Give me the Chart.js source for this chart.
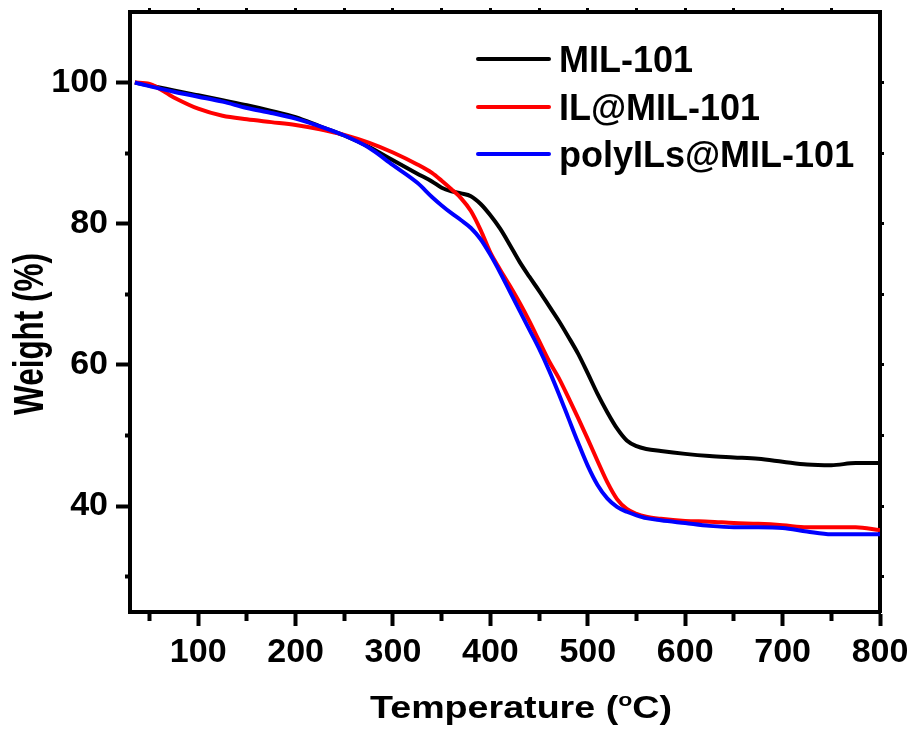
<!DOCTYPE html>
<html>
<head>
<meta charset="utf-8">
<script src="https://cdn.jsdelivr.net/npm/chart.js@4.4.0/dist/chart.umd.min.js"></script>
<style>
html,body{margin:0;padding:0;background:#fff;}
#wrap{position:relative;width:916px;height:733px;}
</style>
</head>
<body>
<div id="wrap"><canvas id="c" width="916" height="733"></canvas></div>
<script>
// ---- data ----
const temperature = [35,50,75,100,125,150,175,200,225,250,275,300,325,340,350,360,370,380,390,400,410,420,430,440,450,460,470,480,490,500,510,520,530,540,550,560,575,600,625,650,675,700,725,750,775,800];
const mil101 = [100.0,99.6,98.9,98.2,97.5,96.8,96.0,95.1,93.8,92.5,90.9,89.0,87.1,86.0,85.1,84.6,84.3,83.9,82.8,81.2,79.3,77.0,74.6,72.5,70.5,68.4,66.3,64.0,61.6,58.8,55.9,53.3,51.0,49.3,48.5,48.1,47.8,47.4,47.1,46.9,46.7,46.3,45.9,45.8,46.1,46.1];
const ilMil101 = [100.0,99.8,97.9,96.3,95.3,94.8,94.4,94.0,93.4,92.6,91.5,90.1,88.4,87.2,86.1,84.9,83.6,81.8,79.1,75.9,73.5,71.2,68.8,66.2,63.4,60.6,58.2,55.4,52.5,49.5,46.4,43.4,41.0,39.6,38.9,38.5,38.2,37.9,37.8,37.6,37.5,37.3,37.0,37.0,37.0,36.6];
const polyIlsMil101 = [100.0,99.5,98.7,98.0,97.3,96.4,95.7,94.9,93.8,92.5,90.8,88.3,85.8,83.8,82.6,81.5,80.5,79.4,77.8,75.6,73.1,70.4,67.7,65.0,62.3,59.3,56.0,52.5,49.0,45.7,43.0,41.1,39.9,39.2,38.7,38.3,38.0,37.6,37.2,37.0,37.0,36.9,36.4,36.0,36.0,36.0];
const seriesNames = ['MIL-101','IL@MIL-101','polyILs@MIL-101'];
const seriesColors = ['#000000','#ff0000','#0000ff'];
const xTickValues = [100,200,300,400,500,600,700,800];
const xMinorValues = [50,150,250,350,450,550,650,750];
const xTopValues = [50,100,150,200,250,300,350,400,450,500,550,600,650,700,750];
const yTickValues = [40,60,80,100];
const yMinorValues = [30,50,70,90];
const yRightValues = [30,40,50,60,70,80,90,100];
const xTitleParts = ['Temperature (','o','C)'];
const yTitle = 'Weight (%)';

const FONT = "'Liberation Sans', Arial, sans-serif";

function pts(ys){ return temperature.map((t,i)=>({x:t,y:ys[i]})); }
function setTicks(vals){ return function(scale){ scale.ticks = vals.map(v=>({value:v})); }; }
function zeroPad(s){ s.paddingTop = 0; s.paddingBottom = 0; s.paddingLeft = 0; s.paddingRight = 0; }

const decor = {
  id:'decor',
  afterDraw(chart){
    const ctx = chart.ctx;
    ctx.save();
    ctx.fillStyle = '#000';
    // legend
    const rowsLine = [59,107,154];
    ctx.font = 'bold 36px ' + FONT;
    ctx.textAlign = 'left';
    ctx.textBaseline = 'alphabetic';
    chart.data.datasets.forEach((ds,i)=>{
      ctx.strokeStyle = ds.borderColor;
      ctx.lineWidth = 4;
      ctx.lineCap = 'round';
      ctx.beginPath();
      ctx.moveTo(478, rowsLine[i]);
      ctx.lineTo(549, rowsLine[i]);
      ctx.stroke();
      ctx.fillText(ds.label, 559, rowsLine[i] + 12.5);
    });
    // x title with superscript
    const f1 = 'bold 31px ' + FONT, f2 = 'bold 19px ' + FONT;
    ctx.font = f1; const w0 = ctx.measureText(xTitleParts[0]).width;
    const w2 = ctx.measureText(xTitleParts[2]).width;
    ctx.font = f2; const w1 = ctx.measureText(xTitleParts[1]).width;
    const total = w0 + w1 + w2;
    const sx = 302 / total;
    ctx.save();
    ctx.translate(370, 718);
    ctx.scale(sx, 1);
    ctx.font = f1; ctx.fillText(xTitleParts[0], 0, 0);
    ctx.font = f2; ctx.fillText(xTitleParts[1], w0, -12.5);
    ctx.font = f1; ctx.fillText(xTitleParts[2], w0 + w1, 0);
    ctx.restore();
    // y title
    ctx.save();
    ctx.font = 'bold 42px ' + FONT;
    const wy = ctx.measureText(yTitle).width;
    ctx.translate(43, 415);
    ctx.rotate(-Math.PI/2);
    ctx.scale(162 / wy, 1);
    ctx.fillText(yTitle, 0, 0);
    ctx.restore();
    ctx.restore();
  }
};

const noGridCommon = { drawOnChartArea:false, drawTicks:true, tickColor:'#000' };

new Chart(document.getElementById('c'), {
  type:'line',
  data:{
    datasets:[
      {label:seriesNames[0], data:pts(mil101), borderColor:seriesColors[0], order:3},
      {label:seriesNames[1], data:pts(ilMil101), borderColor:seriesColors[1], order:2},
      {label:seriesNames[2], data:pts(polyIlsMil101), borderColor:seriesColors[2], order:1}
    ].map(d=>Object.assign(d,{borderWidth:4, pointRadius:0, fill:false, cubicInterpolationMode:'monotone', xAxisID:'x', yAxisID:'y', borderJoinStyle:'round'}))
  },
  options:{
    responsive:false, animation:false, devicePixelRatio:1,
    layout:{padding:{top:12,right:36,left:0,bottom:0}},
    plugins:{legend:{display:false}, tooltip:{enabled:false}},
    scales:{
      x:{type:'linear', position:'bottom', min:30, max:800, weight:1,
        afterBuildTicks:setTicks(xTickValues),
        ticks:{font:{family:FONT, size:34, weight:'bold'}, color:'#000', padding:6, maxRotation:0, autoSkip:false},
        grid:Object.assign({tickLength:14, tickWidth:4}, noGridCommon),
        border:{display:true, color:'#000', width:4},
        afterFit(s){ s.height = 121; s.paddingLeft = 0; s.paddingRight = 30; }
      },
      xMinor:{type:'linear', position:'bottom', min:30, max:800, weight:0,
        afterBuildTicks:setTicks(xMinorValues),
        ticks:{display:false},
        grid:Object.assign({tickLength:9, tickWidth:4}, noGridCommon),
        border:{display:false},
        afterFit(s){ s.height = 0; zeroPad(s); }
      },
      xTop:{type:'linear', position:'top', min:30, max:800,
        afterBuildTicks:setTicks(xTopValues),
        ticks:{display:false},
        grid:Object.assign({tickLength:4, tickWidth:3}, noGridCommon),
        border:{display:true, color:'#000', width:4},
        afterFit(s){ s.height = 0; zeroPad(s); }
      },
      y:{type:'linear', position:'left', min:25, max:110, weight:1,
        afterBuildTicks:setTicks(yTickValues),
        ticks:{font:{family:FONT, size:34, weight:'bold'}, color:'#000', padding:8, autoSkip:false},
        grid:Object.assign({tickLength:14, tickWidth:4}, noGridCommon),
        border:{display:true, color:'#000', width:4},
        afterFit(s){ s.width = 130; zeroPad(s); }
      },
      yMinor:{type:'linear', position:'left', min:25, max:110, weight:0,
        afterBuildTicks:setTicks(yMinorValues),
        ticks:{display:false},
        grid:Object.assign({tickLength:5, tickWidth:4}, noGridCommon),
        border:{display:false},
        afterFit(s){ s.width = 0; zeroPad(s); }
      },
      yRight:{type:'linear', position:'right', min:25, max:110,
        afterBuildTicks:setTicks(yRightValues),
        ticks:{display:false},
        grid:Object.assign({tickLength:4, tickWidth:3}, noGridCommon),
        border:{display:true, color:'#000', width:4},
        afterFit(s){ s.width = 0; zeroPad(s); }
      }
    }
  },
  plugins:[decor]
});
</script>
</body>
</html>
